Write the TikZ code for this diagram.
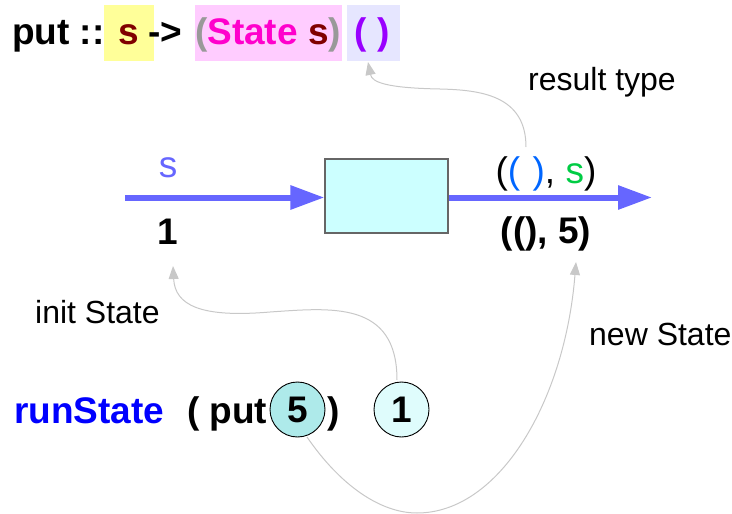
\documentclass[tikz,border=0pt]{standalone}
\usepackage{fontspec}
\setmainfont{Liberation Sans}
\usetikzlibrary{arrows.meta}
\definecolor{dred}{HTML}{800000}
\definecolor{magen}{HTML}{FF00CC}
\definecolor{purp}{HTML}{9900FF}
\definecolor{gparen}{HTML}{999999}
\definecolor{ybox}{HTML}{FFFF99}
\definecolor{pbox}{HTML}{FFCCFF}
\definecolor{lbox}{HTML}{E6E6FF}
\definecolor{flow}{HTML}{6666FF}
\definecolor{boxfill}{HTML}{CCFFFF}
\definecolor{unitblue}{HTML}{0066FF}
\definecolor{sgreen}{HTML}{00CC44}
\definecolor{rsblue}{HTML}{0000FF}
\definecolor{cfive}{HTML}{AEEAEA}
\definecolor{cone}{HTML}{DFFCFC}
\definecolor{note}{HTML}{C8C8C8}
\begin{document}
\begin{tikzpicture}[x=1pt,y=-1pt,
  bigb/.style={font=\fontsize{37}{41}\selectfont\bfseries, inner sep=0pt},
  midr/.style={font=\fontsize{37}{41}\selectfont, inner sep=0pt},
  reg/.style={font=\fontsize{32}{36}\selectfont, inner sep=0pt},
  flowline/.style={draw=flow, line width=6pt, -{Triangle[length=34pt,width=23pt]}},
  notearrow/.style={draw=note, line width=1pt, -{Triangle[length=13pt,width=10pt]}},
  valcirc/.style={circle, draw=black, line width=0.9pt, minimum size=55pt, inner sep=0pt,
    font=\fontsize{37}{41}\selectfont\bfseries}]
\useasboundingbox (0,0) rectangle (732,514);
% title highlights
\fill[ybox] (104,5) rectangle (154,61);
\fill[pbox] (195,5) rectangle (342,61);
\fill[lbox] (347,5) rectangle (400,61);
\node[bigb, anchor=base west] (tput) at (12,45) {put ::};
\node[bigb, anchor=base, text=dred] (ts) at (129,45) {s};
\node[bigb, anchor=base west] (tarr) at (148,45) {->};
\node[bigb, anchor=base] (tstate) at (268,45) {\textcolor{gparen}{(}\textcolor{magen}{State} \textcolor{dred}{s}\textcolor{gparen}{)}};
\node[bigb, anchor=base, text=purp] (tunit) at (372,45) {( )};
% labels
\node[reg, anchor=base west] (rt) at (528,90) {result type};
\node[reg, anchor=base west] (init) at (35,323) {init State};
\node[reg, anchor=base west] (new) at (589,345) {new State};
% flow
\coordinate (fstart) at (125,197.5);
\coordinate (fend) at (652,197.5);
\node[draw=black!60, line width=1.2pt, fill=boxfill, minimum width=123pt, minimum height=74pt, inner sep=0pt] (box) at (386.5,196) {};
\draw[flowline] (fstart) -- (box.west |- fstart);
\draw[flowline] (box.east |- fend) -- (fend);
\node[midr, anchor=base, text=flow] (sin) at (168,177) {s};
\node[bigb, anchor=base] (one) at (168,244) {1};
\node[midr, anchor=base] (outt) at (546,183) {(\textcolor{unitblue}{(\,\,)}, \textcolor{sgreen}{s})};
\node[bigb, anchor=base] (outv) at (546,243) {((), 5)};
% runState line
\node[bigb, anchor=base west, text=rsblue] (rs) at (14,423) {runState};
\node[bigb, anchor=base west] (put) at (187,423) {( put};
\node[valcirc, fill=cfive] (five) at (297.5,409.5) {5};
\node[bigb, anchor=base west] (close) at (327,423) {)};
\node[valcirc, fill=cone] (onec) at (401.5,409.5) {1};
% notes
\coordinate (rtstart) at (526,147);
\coordinate (rtend) at (368,62);
\draw[notearrow] (rtstart) .. controls (526,95) and (480,90) .. (440,89) .. controls (385,88) and (372,82) .. (rtend);
\coordinate (onetop) at (397,380);
\coordinate (initend) at (173,266);
\draw[notearrow] (onetop) .. controls (397,300) and (330,308) .. (270,312) .. controls (200,318) and (175,305) .. (initend);
\coordinate (fivebot) at (307,437);
\coordinate (newend) at (576,262);
\draw[notearrow] (fivebot) .. controls (340,485) and (380,513) .. (417,513) .. controls (500,513) and (565,400) .. (newend);
\end{tikzpicture}
\end{document}
